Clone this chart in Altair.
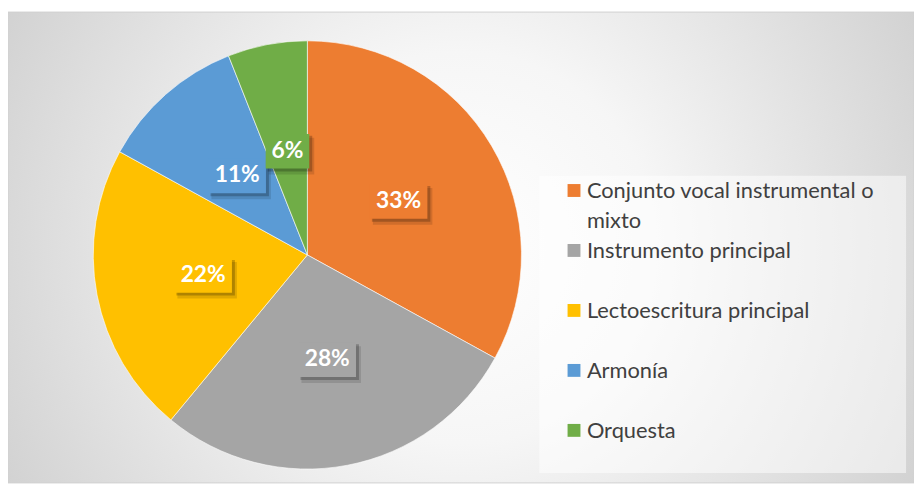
import altair as alt
import pandas as pd

categories = ["Conjunto vocal instrumental o mixto", "Instrumento principal",
              "Lectoescritura principal", "Armonía", "Orquesta"]
legend_labels = ["Conjunto vocal instrumental o\nmixto", "Instrumento principal",
                 "Lectoescritura principal", "Armonía", "Orquesta"]
percentages = [33, 28, 22, 11, 6]
colors = ["#ED7D31", "#A5A5A5", "#FFC000", "#5B9BD5", "#70AD47"]

df = pd.DataFrame({
    "cat": categories,
    "leg": legend_labels,
    "pct": percentages,
    "idx": list(range(len(categories))),
})

W, H = 914, 477
CX, CY, R, LR = 302, 247, 216, 107

color_scale = alt.Scale(domain=categories, range=colors)

bg = alt.Chart(alt.Data(values=[{}])).mark_rect(
    fill=alt.RadialGradient(
        gradient="radial",
        stops=[alt.GradientStop(color="#ffffff", offset=0),
               alt.GradientStop(color="#f6f6f6", offset=0.3),
               alt.GradientStop(color="#c2c2c2", offset=1)],
        x1=0.5, y1=0.5, r1=0, x2=0.5, y2=0.5, r2=0.72),
    stroke="#d0d0d0", strokeWidth=1
).encode(x=alt.value(0), x2=alt.value(W), y=alt.value(2), y2=alt.value(H))

legbox = alt.Chart(alt.Data(values=[{}])).mark_rect(
    fill="#ffffff", fillOpacity=0.5
).encode(x=alt.value(536), x2=alt.value(906), y=alt.value(167), y2=alt.value(467))

base = alt.Chart(df)

pie = base.mark_arc(outerRadius=R, stroke="#ffffff", strokeWidth=0.6).encode(
    theta=alt.Theta("pct:Q", stack=True),
    color=alt.Color("cat:N", scale=color_scale, legend=None),
    order=alt.Order("idx:Q"),
    x=alt.value(CX), y=alt.value(CY),
)

lab = base.transform_window(
    cum="sum(pct)", sort=[alt.SortField("idx")], frame=[None, 0]
).transform_joinaggregate(
    total="sum(pct)"
).transform_calculate(
    mid="(datum.cum - datum.pct/2)/datum.total*2*PI",
    label="datum.pct + '%'",
).transform_calculate(
    lx=f"{CX} + {LR}*sin(datum.mid)",
    ly=f"{CY} - {LR}*cos(datum.mid)",
    bw="length(datum.label) > 2 ? 58 : 44",
).transform_calculate(
    bx1="datum.lx - datum.bw/2", bx2="datum.lx + datum.bw/2",
    by1="datum.ly - 17", by2="datum.ly + 18",
    sx1="datum.lx - datum.bw/2 + 3", sx2="datum.lx + datum.bw/2 + 5",
    sy1="datum.ly - 17 + 4", sy2="datum.ly + 18 + 6",
    tx1="datum.lx - datum.bw/2 + 2", tx2="datum.lx + datum.bw/2 + 3",
    ty1="datum.ly - 17 + 2", ty2="datum.ly + 18 + 3",
)

shadow1 = lab.mark_rect(color="#000000", opacity=0.12).encode(
    x=alt.X("sx1:Q", scale=None), x2="sx2:Q",
    y=alt.Y("sy1:Q", scale=None), y2="sy2:Q")
shadow2 = lab.mark_rect(color="#000000", opacity=0.22).encode(
    x=alt.X("tx1:Q", scale=None), x2="tx2:Q",
    y=alt.Y("ty1:Q", scale=None), y2="ty2:Q")
box = lab.mark_rect().encode(
    x=alt.X("bx1:Q", scale=None), x2="bx2:Q",
    y=alt.Y("by1:Q", scale=None), y2="by2:Q",
    color=alt.Color("cat:N", scale=color_scale, legend=None))
txt = lab.mark_text(font="Lato", fontSize=23, fontWeight="bold", color="#ffffff",
                    align="center", baseline="middle").encode(
    x=alt.X("lx:Q", scale=None), y=alt.Y("ly:Q", scale=None), text="label:N")

leg = base.transform_calculate(
    ly="182 + datum.idx*60.5", sx="571", tx="584", ty="182 + datum.idx*60.5 + 8"
)
leg_sym = leg.mark_square(size=169, opacity=1).encode(
    x=alt.X("sx:Q", scale=None), y=alt.Y("ly:Q", scale=None),
    color=alt.Color("cat:N", scale=color_scale, legend=None))
leg_txt = leg.mark_text(font="Lato", fontSize=22, color="#404040", align="left",
                        baseline="alphabetic", lineBreak="\n", lineHeight=30).encode(
    x=alt.X("tx:Q", scale=None), y=alt.Y("ty:Q", scale=None), text="leg:N")

chart = alt.layer(bg, legbox, pie, shadow1, shadow2, box, txt, leg_sym, leg_txt).properties(
    width=W, height=H, padding=0,
    autosize=alt.AutoSizeParams(type="none"),
).configure_view(stroke=None)

chart.save("out.html", embed_options={"renderer": "svg", "actions": False})
